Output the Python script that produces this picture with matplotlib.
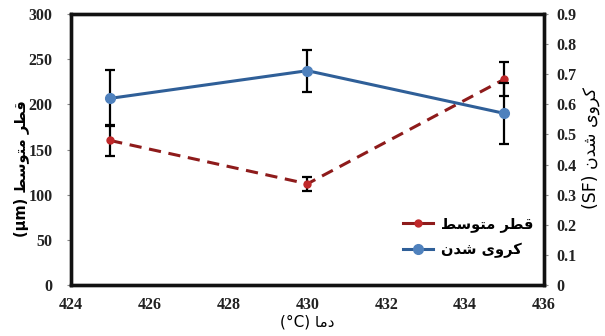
import matplotlib
matplotlib.use("Agg")
import matplotlib.pyplot as plt
from matplotlib.lines import Line2D

# Data
temps = [425, 430, 435]
diam = [160, 112, 228]
diam_err = [17, 8, 19]
sf = [0.62, 0.712, 0.57]
sf_err = [0.093, 0.07, 0.10]
x_ticks = [424, 426, 428, 430, 432, 434, 436]
y_ticks = [0, 50, 100, 150, 200, 250, 300]
y2_ticks = [0, 0.1, 0.2, 0.3, 0.4, 0.5, 0.6, 0.7, 0.8, 0.9]

# Pre-shaped Persian text (visual order, presentation forms)
lbl_diam = "\uFEC2\uFEB3\uFEEE\uFE98\uFEE3 \uFEAE\uFEC4\uFED7"   # قطر متوسط
lbl_sf = "\uFEE5\uFEAA\uFEB7 \uFBFC\uFEED\uFEAE\uFB90"          # کروی شدن
lbl_temp = "\uFE8E\uFEE3\uFEA9"                                 # دما

fig = plt.figure(figsize=(6.05, 3.36), dpi=100)
ax = fig.add_axes([0.117, 0.152, 0.782, 0.806])
ax2 = ax.twinx()

red_line = "#8E1B1B"
red_mk = "#C0282A"
blue_line = "#2F5F98"
blue_mk = "#4F81BD"

ax.errorbar(temps, diam, yerr=diam_err, fmt="none", ecolor="black",
            elinewidth=1.6, capsize=3.5, capthick=1.6, zorder=2)
ax.plot(temps, diam, linestyle=(0, (4, 2.5)), color=red_line, lw=2.2,
        marker="o", markersize=5, markerfacecolor=red_mk, markeredgecolor=red_mk, zorder=3)

ax2.errorbar(temps, sf, yerr=sf_err, fmt="none", ecolor="black",
             elinewidth=1.6, capsize=3.5, capthick=1.6, zorder=2)
ax2.plot(temps, sf, linestyle="-", color=blue_line, lw=2.2,
         marker="o", markersize=7, markerfacecolor=blue_mk, markeredgecolor=blue_mk, zorder=3)

ax.set_xlim(424, 436)
ax.set_ylim(0, 300)
ax2.set_ylim(0, 0.9)
ax.set_xticks(x_ticks)
ax.set_yticks(y_ticks)
ax2.set_yticks(y2_ticks)
ax2.set_yticklabels(["0"] + [f"{v:.1f}" for v in y2_ticks[1:]])

for lab in ax.get_xticklabels() + ax.get_yticklabels() + ax2.get_yticklabels():
    lab.set_fontfamily("Liberation Serif")
    lab.set_fontweight("bold")
    lab.set_fontsize(11.5)
    lab.set_color("#222222")

ax.tick_params(axis="y", direction="out", length=3, width=0.8, color="#888888", pad=10)
ax2.tick_params(axis="y", direction="out", length=3, width=0.8, color="#888888", pad=6)
ax.tick_params(axis="x", length=0, pad=9)

for a in (ax, ax2):
    for s in a.spines.values():
        s.set_linewidth(2.4)
        s.set_color("#111111")

ax.set_xlabel("(°C) " + lbl_temp, family=["DejaVu Sans"], fontsize=11, labelpad=1)
ax.set_ylabel("(µm) " + lbl_diam, family=["DejaVu Sans"], fontweight="bold", fontsize=10.5)
ax.yaxis.set_label_coords(-0.088, 0.43)
ax2.set_ylabel("(SF) " + lbl_sf, family=["DejaVu Sans"], fontsize=12.5, rotation=90)
ax2.yaxis.set_label_coords(1.08, 0.505)

handles = [
    Line2D([], [], color=red_line, lw=2.2, marker="o", markersize=5,
           markerfacecolor=red_mk, markeredgecolor=red_mk),
    Line2D([], [], color=blue_line, lw=2.2, marker="o", markersize=7,
           markerfacecolor=blue_mk, markeredgecolor=blue_mk),
]
ax2.legend(handles, [lbl_diam, lbl_sf], loc="lower right",
           bbox_to_anchor=(1.0, 0.06), frameon=False, handlelength=2.0,
           borderaxespad=0.3, handletextpad=0.6,
           prop=dict(family="DejaVu Sans", weight="bold", size=10.5), labelspacing=0.75)

fig.savefig("out.png", dpi=100)
